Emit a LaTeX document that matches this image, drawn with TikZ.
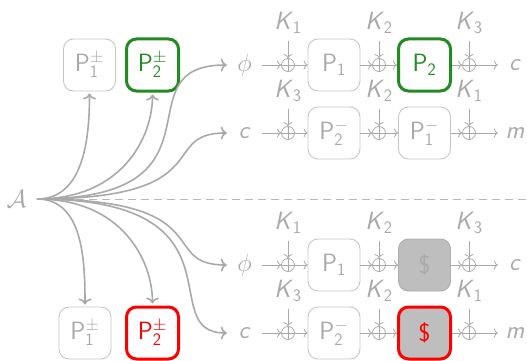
\RequirePackage{fix-cm}
\documentclass[tikz,border=0pt]{standalone}
\usepackage{fontspec}
\usetikzlibrary{arrows.meta}

\definecolor{ink}{HTML}{A9A9A9}
\definecolor{rim}{HTML}{C6C6C6}
\definecolor{dashgray}{HTML}{B8B8B8}
\definecolor{leaf}{HTML}{228B22}
\definecolor{alarm}{HTML}{FF0000}
\definecolor{noise}{HTML}{BEBEBE}
\definecolor{noiserim}{HTML}{ACACAC}

\tikzset{
  txt/.style={font=\fontsize{25}{29}\selectfont\sffamily, text=ink},
  lab/.style={txt, inner sep=0pt},
  inlab/.style={lab, minimum width=25pt},
  outlab/.style={lab, minimum width=30pt},
  cell/.style={txt, draw=rim, line width=0.9pt, rounded corners=10pt,
    minimum width=52pt, minimum height=52pt, inner sep=0pt},
  good/.style={cell, draw=leaf, line width=3pt, text=leaf},
  bad/.style={cell, draw=alarm, line width=3pt, text=alarm},
  rand/.style={cell, fill=noise, draw=noiserim},
  xor/.style={circle, draw=ink, line width=0.8pt, minimum size=13pt, inner sep=0pt,
    path picture={\draw[ink, line width=0.8pt]
      (path picture bounding box.north) -- (path picture bounding box.south)
      (path picture bounding box.west) -- (path picture bounding box.east);}},
  flow/.style={draw=ink, line width=0.8pt, -{To[length=4pt,width=9pt]}},
  fan/.style={draw=ink, line width=1.6pt, -{To[length=6pt,width=13pt]}},
}

% one cipher chain: input, xor, box, xor, box, xor, output
\newcommand{\chain}[8]{%
  \node[inlab] (#1in) at (244.5,#2) {#3};
  \node[xor] (#1xa) at (288,#2) {};
  \node[#4] (#1ba) at (334,#2) {#5};
  \node[xor] (#1xb) at (379,#2) {};
  \node[#6] (#1bb) at (424.5,#2) {#7};
  \node[xor] (#1xc) at (469,#2) {};
  \node[outlab] (#1out) at (515,#2) {#8};
  \draw[flow, shorten <=5pt] (#1in.east) -- (#1xa);
  \draw[flow] (#1xa) -- (#1ba);
  \draw[flow] (#1ba) -- (#1xb);
  \draw[flow] (#1xb) -- (#1bb);
  \draw[flow] (#1bb) -- (#1xc);
  \draw[flow, shorten >=2pt] (#1xc) -- (#1out.west);
}

% round keys fed into the three xors of a chain
\newcommand{\keys}[4]{%
  \foreach \s/\k in {a/#2,b/#3,c/#4}{%
    \coordinate (#1s\s) at ([yshift=17pt]#1x\s.north);
    \node[lab] (#1k\s) at ([yshift=42pt]#1x\s.center) {\textit{K}$_{\mathsf{\k}}$};
    \draw[flow] (#1s\s) -- (#1x\s);
  }%
}

\begin{document}
\begin{tikzpicture}[x=1pt, y=-1pt]
\useasboundingbox (0,0) rectangle (527,361);

% adversary and the separator between the two worlds
\node[lab] (A) at (16.5,199) {$\mathcal{A}$};
\coordinate (hub) at (37,199);
\coordinate (edge) at (527,199);
\draw[dashgray, line width=0.9pt, dash pattern=on 8pt off 5pt] (hub) -- (edge);

% permutation oracles
\node[cell] (pa) at (89.5,65) {P$^{\pm}_{\mathsf{1}}$};
\node[good] (pb) at (152.5,65) {P$^{\pm}_{\mathsf{2}}$};
\node[cell] (qa) at (85,333) {P$^{\pm}_{\mathsf{1}}$};
\node[bad] (qb) at (152.5,333) {P$^{\pm}_{\mathsf{2}}$};

% real world
\chain{u}{65}{$\phi$}{cell}{P$_{\mathsf{1}}$}{good}{P$_{\mathsf{2}}$}{\textit{c}}
\keys{u}{1}{2}{3}
\chain{v}{133}{\textit{c}}{cell}{P$^{-}_{\mathsf{2}}$}{cell}{P$^{-}_{\mathsf{1}}$}{\textit{m}}
\keys{v}{3}{2}{1}

% ideal world
\chain{w}{265}{$\phi$}{cell}{P$_{\mathsf{1}}$}{rand}{\$}{\textit{c}}
\keys{w}{1}{2}{3}
\chain{z}{333}{\textit{c}}{cell}{P$^{-}_{\mathsf{2}}$}{rand, bad}{\$}{\textit{m}}
\keys{z}{3}{2}{1}

% queries of the adversary
\draw[fan, shorten >=2pt] (hub) to[out=0, in=-90] (pa.south);
\draw[fan, shorten >=2pt] (hub) .. controls +(85,0) and +(0,45) .. (pb.south);
\draw[fan, shorten >=5pt] (hub) .. controls +(200,0) and +(-115,0) .. (uin.west);
\draw[fan, shorten >=5pt] (hub) .. controls +(185,0) and +(-75,0) .. (vin.west);
\draw[fan, shorten >=2pt] (hub) to[out=0, in=90] (qa.north);
\draw[fan, shorten >=2pt] (hub) .. controls +(85,0) and +(0,-45) .. (qb.north);
\draw[fan, shorten >=5pt] (hub) .. controls +(185,0) and +(-75,0) .. (win.west);
\draw[fan, shorten >=5pt] (hub) .. controls +(215,0) and +(-80,0) .. (zin.west);
\end{tikzpicture}
\end{document}
